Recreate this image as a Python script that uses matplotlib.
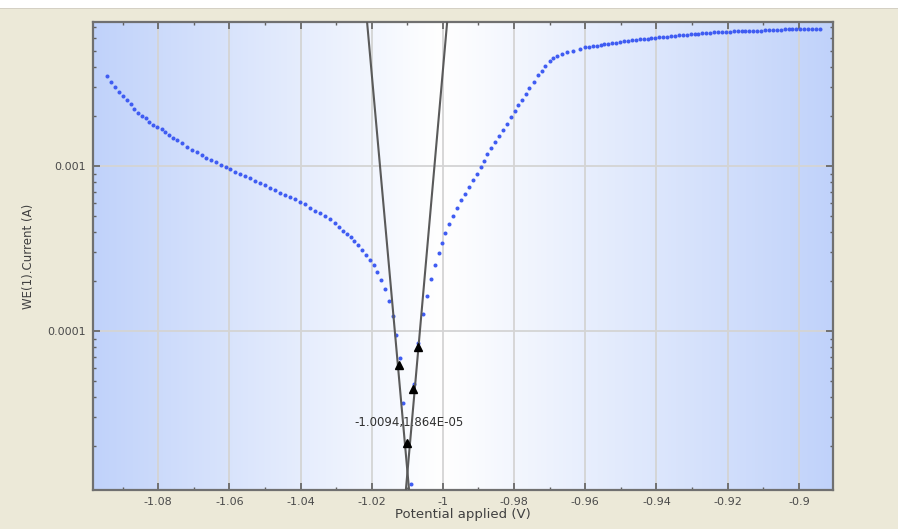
import numpy as np
import matplotlib
matplotlib.use("Agg")
import matplotlib.pyplot as plt
from matplotlib.ticker import FixedLocator, FixedFormatter, LogLocator, NullFormatter
from matplotlib.patches import Rectangle

# cathodic branch (potential V, current A)
cath_E = [-1.0943, -1.0932, -1.0921, -1.0910, -1.0898, -1.0887, -1.0876, -1.0867, -1.0856, -1.0845,
          -1.0834, -1.0825, -1.0814, -1.0803, -1.0789, -1.0780, -1.0769, -1.0758, -1.0747, -1.0733,
          -1.0719, -1.0705, -1.0691, -1.0676, -1.0665, -1.0651, -1.0637, -1.0623, -1.0609, -1.0598,
          -1.0584, -1.0570, -1.0556, -1.0542, -1.0528, -1.0514, -1.0500, -1.0486, -1.0471, -1.0457,
          -1.0443, -1.0429, -1.0415, -1.0401, -1.0387, -1.0373, -1.0359, -1.0345, -1.0331, -1.0317,
          -1.0303, -1.0292, -1.0281, -1.0269, -1.0258, -1.0250, -1.0238, -1.0227, -1.0216, -1.0205,
          -1.0194, -1.0185, -1.0174, -1.0163, -1.0151, -1.0140, -1.0132, -1.0120, -1.0112, -1.0090]
cath_I = [3.52e-3, 3.24e-3, 3.02e-3, 2.82e-3, 2.66e-3, 2.52e-3, 2.38e-3, 2.22e-3, 2.10e-3, 2.01e-3,
          1.96e-3, 1.85e-3, 1.77e-3, 1.73e-3, 1.68e-3, 1.61e-3, 1.54e-3, 1.48e-3, 1.44e-3, 1.38e-3,
          1.30e-3, 1.25e-3, 1.22e-3, 1.17e-3, 1.12e-3, 1.09e-3, 1.06e-3, 1.01e-3, 0.986e-3, 0.959e-3,
          0.919e-3, 0.894e-3, 0.870e-3, 0.845e-3, 0.811e-3, 0.788e-3, 0.766e-3, 0.735e-3, 0.715e-3, 0.685e-3,
          0.666e-3, 0.648e-3, 0.630e-3, 0.604e-3, 0.587e-3, 0.556e-3, 0.533e-3, 0.518e-3, 0.497e-3, 0.476e-3,
          0.450e-3, 0.426e-3, 0.403e-3, 0.386e-3, 0.370e-3, 0.350e-3, 0.331e-3, 0.309e-3, 0.288e-3, 0.268e-3,
          0.250e-3, 0.227e-3, 0.203e-3, 0.179e-3, 0.151e-3, 0.124e-3, 0.0952e-3, 0.0690e-3, 0.0368e-3, 0.0118e-3]

# anodic branch, rising part
an_E = [-1.0081, -1.0070, -1.0056, -1.0045, -1.0033, -1.0022, -1.0011, -1.0003, -0.9994, -0.9983,
        -0.9972, -0.9960, -0.9949, -0.9938, -0.9927, -0.9915, -0.9904, -0.9893, -0.9885, -0.9876,
        -0.9865, -0.9854, -0.9842, -0.9831, -0.9820, -0.9809, -0.9798, -0.9789, -0.9778, -0.9767,
        -0.9758, -0.9744, -0.9733, -0.9722, -0.9713, -0.9699, -0.9691, -0.9680, -0.9666, -0.9652,
        -0.9635, -0.9615]
an_I = [4.80e-5, 8.51e-5, 1.26e-4, 1.64e-4, 2.06e-4, 2.50e-4, 2.96e-4, 3.40e-4, 3.91e-4, 4.44e-4,
        4.97e-4, 5.56e-4, 6.21e-4, 6.76e-4, 7.45e-4, 8.22e-4, 8.94e-4, 9.86e-4, 1.072e-3, 1.183e-3,
        1.286e-3, 1.399e-3, 1.522e-3, 1.655e-3, 1.80e-3, 1.986e-3, 2.159e-3, 2.349e-3, 2.52e-3, 2.74e-3,
        2.98e-3, 3.24e-3, 3.57e-3, 3.78e-3, 4.05e-3, 4.35e-3, 4.53e-3, 4.66e-3, 4.80e-3, 4.93e-3,
        5.00e-3, 5.14e-3]

# anodic branch, flat part
lim_E = [-0.9601, -0.9590, -0.9579, -0.9568, -0.9557, -0.9546, -0.9535, -0.9524, -0.9513,
         -0.9502, -0.9491, -0.9480, -0.9469, -0.9458, -0.9447, -0.9436, -0.9425, -0.9414,
         -0.9403, -0.9392, -0.9381, -0.9370, -0.9359, -0.9348, -0.9337, -0.9326, -0.9315,
         -0.9304, -0.9293, -0.9282, -0.9271, -0.9260, -0.9249, -0.9238, -0.9227, -0.9216,
         -0.9205, -0.9194, -0.9183, -0.9172, -0.9161, -0.9150, -0.9139, -0.9128, -0.9117,
         -0.9106, -0.9095, -0.9084, -0.9073, -0.9062, -0.9051, -0.9040, -0.9029, -0.9018,
         -0.9007, -0.8996, -0.8985, -0.8974, -0.8963, -0.8952, -0.8941]
lim_I = [5.25e-3, 5.30e-3, 5.34e-3, 5.38e-3, 5.42e-3, 5.47e-3, 5.51e-3, 5.56e-3, 5.61e-3,
         5.66e-3, 5.70e-3, 5.75e-3, 5.79e-3, 5.83e-3, 5.86e-3, 5.90e-3, 5.93e-3, 5.97e-3,
         6.00e-3, 6.03e-3, 6.06e-3, 6.10e-3, 6.14e-3, 6.17e-3, 6.20e-3, 6.23e-3, 6.26e-3,
         6.30e-3, 6.32e-3, 6.35e-3, 6.38e-3, 6.42e-3, 6.44e-3, 6.46e-3, 6.48e-3, 6.50e-3,
         6.52e-3, 6.54e-3, 6.55e-3, 6.56e-3, 6.57e-3, 6.58e-3, 6.60e-3, 6.61e-3, 6.62e-3,
         6.63e-3, 6.66e-3, 6.69e-3, 6.70e-3, 6.71e-3, 6.72e-3, 6.73e-3, 6.76e-3, 6.79e-3,
         6.80e-3, 6.81e-3, 6.81e-3, 6.81e-3, 6.82e-3, 6.82e-3, 6.82e-3]

# tafel lines (end points) and fit markers
tafel_c_E = [-1.0213, -1.0095]
tafel_c_I = [7.47e-3, 1.087e-5]
tafel_a_E = [-0.9988, -1.0104]
tafel_a_I = [7.47e-3, 1.087e-5]
tri_E = [-1.0123, -1.0101, -1.0070, -1.0084]
tri_I = [6.26e-5, 2.10e-5, 8.05e-5, 4.47e-5]

ecorr, icorr = -1.0094, 1.864e-05
label_pos = (-1.0095, 2.78e-5)

xticks = [-1.08, -1.06, -1.04, -1.02, -1.0, -0.98, -0.96, -0.94, -0.92, -0.9]
xticklabels = ["-1.08", "-1.06", "-1.04", "-1.02", "-1", "-0.98", "-0.96", "-0.94", "-0.92", "-0.9"]
yticks = [1e-4, 1e-3]
yticklabels = ["0.0001", "0.001"]

W, H = 898, 529
fig = plt.figure(figsize=(W / 100, H / 100), dpi=100)
fig.patch.set_facecolor("#ECE9D8")
# white strip at the very top of the window
fig.patches.append(Rectangle((0, 1 - 8 / H), 1, 8 / H, transform=fig.transFigure,
                             facecolor="white", edgecolor="none", zorder=0))
fig.patches.append(Rectangle((0, 1 - 9 / H), 1, 1.2 / H, transform=fig.transFigure,
                             facecolor="#D4D0C4", edgecolor="none", zorder=0))

ax = fig.add_axes([93 / W, 1 - 490 / H, (833 - 93) / W, (490 - 22) / H])

# horizontal gradient: blue at edges, white around -1.0
t = np.linspace(0, 1, 400)
c = 0.47
f = np.where(t < c, (c - t) / c, (t - c) / (1 - c))
edge = np.array([192, 210, 250]) / 255.0
grad = 1 - f[:, None] * (1 - edge[None, :])
ax.imshow(grad[None, :, :], extent=[0, 1, 0, 1], transform=ax.transAxes,
          aspect="auto", zorder=0, interpolation="bilinear")

ax.set_yscale("log")

for xv in xticks:
    ax.axvline(xv, color="#D4D4D4", lw=1.3, zorder=1)
for yv in yticks:
    ax.axhline(yv, color="#D4D4D4", lw=1.3, zorder=1)

ax.text(label_pos[0], label_pos[1], "%.4f,%.3fE-05" % (ecorr, icorr / 1e-5),
        ha="center", va="center", fontsize=8.5, color="#303030", zorder=2)

dot = dict(ls="none", marker="o", ms=2.9, mfc="#3F5CF2", mec="none", zorder=3)
ax.plot(cath_E, cath_I, **dot)
ax.plot(an_E, an_I, **dot)
ax.plot(lim_E, lim_I, **dot)

ax.plot(tafel_c_E, tafel_c_I, color="#5A5A5A", lw=1.5, zorder=4)
ax.plot(tafel_a_E, tafel_a_I, color="#5A5A5A", lw=1.5, zorder=4)
ax.plot(tri_E, tri_I, ls="none", marker="^", ms=6, color="black", zorder=5)

ax.set_xlim(-1.0983, -0.8904)
ax.set_ylim(1.087e-5, 7.47e-3)

ax.xaxis.set_major_locator(FixedLocator(xticks))
ax.xaxis.set_major_formatter(FixedFormatter(xticklabels))
ax.xaxis.set_minor_locator(FixedLocator([-1.09, -1.07, -1.05, -1.03, -1.01, -0.99,
                                         -0.97, -0.95, -0.93, -0.91]))
ax.yaxis.set_major_locator(FixedLocator(yticks))
ax.yaxis.set_major_formatter(FixedFormatter(yticklabels))
ax.yaxis.set_minor_locator(LogLocator(base=10, subs=np.arange(2, 10)))
ax.yaxis.set_minor_formatter(NullFormatter())

ax.tick_params(which="both", direction="in", top=True, right=True, colors="#606060",
               labelcolor="#4A4A4A", labelsize=8)
ax.tick_params(which="major", length=5, width=1.2, pad=5)
ax.tick_params(which="minor", length=2.5, width=1)

for s in ax.spines.values():
    s.set_color("#707070")
    s.set_linewidth(1.6)

ax.set_xlabel("Potential applied (V)", fontsize=9.5, color="#404040", labelpad=1)
ax.set_ylabel("WE(1).Current (A)", fontsize=8.5, color="#404040")
ax.yaxis.set_label_coords(-0.078, 0.5)

fig.savefig("out.png", dpi=100, facecolor=fig.get_facecolor())
